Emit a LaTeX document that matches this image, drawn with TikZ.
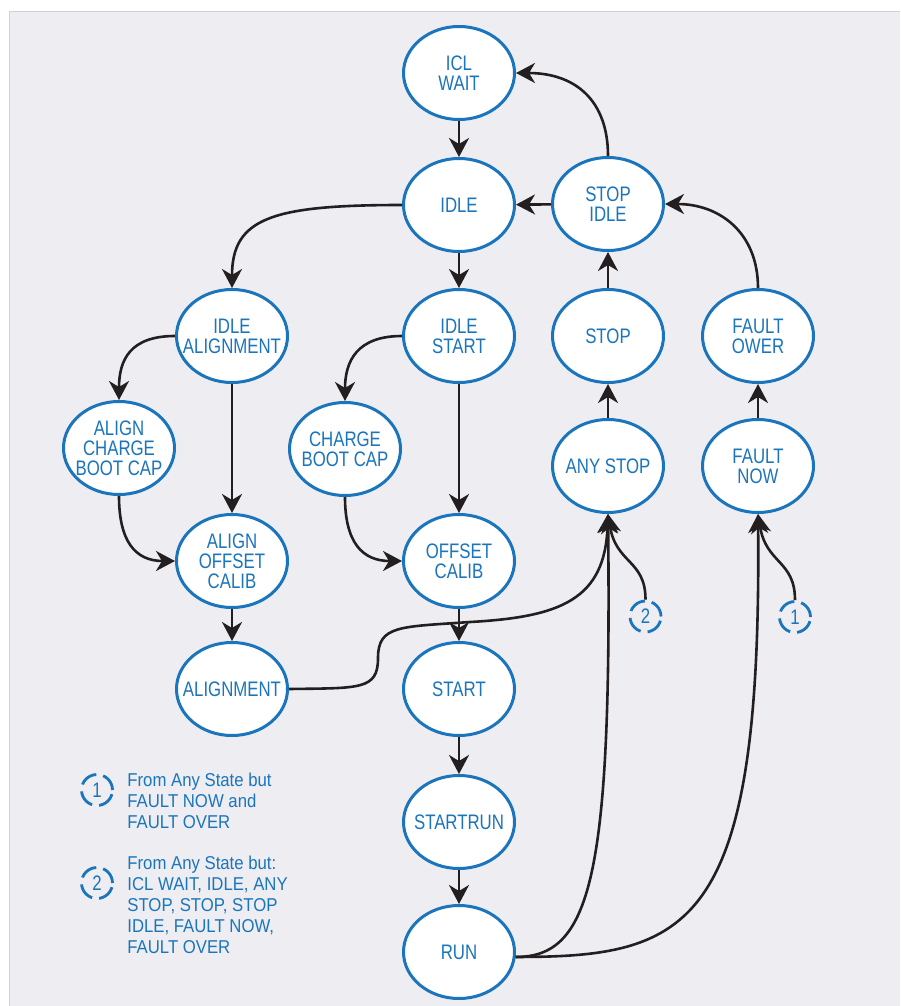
\documentclass[tikz,border=0pt]{standalone}
\usepackage{fontspec}
\setmainfont{Liberation Sans}[FakeStretch=0.8]
\newfontfamily\legendfont{Liberation Sans}[FakeStretch=0.9]
\usepackage{tikz}
\usetikzlibrary{
	arrows.meta,
	shapes.geometric
}
\definecolor{blaa}{HTML}{1B75BC}
\definecolor{strek}{HTML}{231F20}
\definecolor{bakgrunn}{HTML}{EDEDF2}
\definecolor{kant}{HTML}{D2D2D6}
\tikzset{
%Define standard arrow tip
>={Stealth[length=9.5pt,width=10pt,inset=3pt]},
%Define style for states
tilstand/.style={
	ellipse,
	draw=blaa, line width=1.5pt,
	fill=white,
	text=blaa,
	minimum width=55.5pt,
	minimum height=46.5pt,
	inner xsep=-5pt,
	inner ysep=1pt,
	align=center},
%Define style for the numbered marks
merke/.style={
	circle,
	draw=blaa, line width=1.4pt,
	dash pattern=on 9pt off 3.5pt,
	text=blaa,
	font=\fontsize{10.5}{10}\selectfont,
	minimum size=15.5pt,
	inner sep=0pt},
%Define style for legend text
forklaring/.style={
	text=blaa,
	align=left,
	inner sep=0pt,
	font=\legendfont\fontsize{9.3}{10.5}\selectfont},
% Define arrow style
pil/.style={
	->,
	draw=strek,
	line width=1.3pt},
lip/.style={
	<-,
	draw=strek,
	line width=1.3pt}
}
\begin{document}
\begin{tikzpicture}[x=0.5pt,y=-0.5pt]
				\tikzstyle{every node}=[font=\fontsize{10.5}{10}\selectfont]
				\useasboundingbox (0,0) rectangle (900,1006);
				\fill[bakgrunn] (9,12) rectangle (900,1006);
				\draw[kant, line width=0.5pt] (9,1006) -- (9,12) -- (900,12);
				% middle column
				\node[tilstand] (icl) at (459,73) {ICL\\WAIT};
				\node[tilstand] (idle) at (459,205) {IDLE} edge[lip] (icl);
				\node[tilstand] (idlestart) at (459,336) {IDLE\\START} edge[lip] (idle);
				\node[tilstand] (offset) at (459,561) {OFFSET\\CALIB} edge[lip] (idlestart);
				\node[tilstand] (start) at (459,689) {START} edge[lip] (offset);
				\node[tilstand] (startrun) at (459,822) {STARTRUN} edge[lip] (start);
				\node[tilstand] (run) at (459,952) {RUN} edge[lip] (startrun);
				% stop and fault columns
				\node[tilstand] (stopidle) at (608,204) {STOP\\IDLE} edge[pil] (idle);
				\node[tilstand] (stop) at (608,336) {STOP} edge[pil] (stopidle);
				\node[tilstand] (anystop) at (608,466) {ANY STOP} edge[pil] (stop);
				\node[tilstand] (faultover) at (758,336) {FAULT\\OWER};
				\node[tilstand] (faultnow) at (758,466) {FAULT\\NOW} edge[pil] (faultover);
				% alignment columns
				\node[tilstand] (idlealign) at (232,336) {IDLE\\ALIGNMENT};
				\node[tilstand] (aligncharge) at (119,448) {ALIGN\\CHARGE\\BOOT CAP};
				\node[tilstand] (alignoffset) at (232,561) {ALIGN\\OFFSET\\CALIB} edge[lip] (idlealign);
				\node[tilstand] (alignment) at (232,689) {ALIGNMENT} edge[lip] (alignoffset);
				\node[tilstand] (charge) at (345,449) {CHARGE\\BOOT CAP};
				\node[merke] (ref2) at (645.5,616.5) {2};
				\node[merke] (ref1) at (795,617) {1};
				% curved arrows
				\draw[pil] (stopidle.north) .. controls +(0,-55) and +(60,0) .. (icl.east);
				\draw[pil] (faultover.north) .. controls +(0,-55) and +(55,0) .. (stopidle.east);
				\draw[pil] (idle.west) .. controls +(-130,0) and +(0,-70) .. (idlealign.north);
				\draw[pil] (idlealign.west) .. controls +(-45,0) and +(0,-40) .. (aligncharge.north);
				\draw[pil] (idlestart.west) .. controls +(-45,0) and +(0,-40) .. (charge.north);
				\draw[pil] (aligncharge.south) .. controls +(0,45) and +(-40,0) .. (alignoffset.west);
				\draw[pil] (charge.south) .. controls +(0,45) and +(-40,0) .. (offset.west);
				\draw[pil] (alignment.east) .. controls (360,688) and (378,690) .. (378,658) .. controls (378,625) and (400,627) .. (470,622) .. controls (560,617) and (605,600) .. (anystop.south);
				\draw[pil] (run.-5) .. controls (590,957) and (612,880) .. (anystop.south);
				\draw[pil] (run.-5) .. controls (690,957) and (762,930) .. (faultnow.south);
				\draw[pil] (ref2.north) .. controls +(0,-40) and +(8,50) .. (anystop.south);
				\draw[pil] (ref1.north) .. controls +(0,-40) and +(8,50) .. (faultnow.south);
				% legend
				\node[merke] (key1) at (97,790) {1};
				\node[merke] (key2) at (97,883) {2};
				\node[forklaring, anchor=north west] (note1) at (127,773) {From Any State but\\FAULT NOW and\\FAULT OVER};
				\node[forklaring, anchor=north west] (note2) at (127,856) {From Any State but:\\ICL WAIT, IDLE, ANY\\STOP, STOP, STOP\\IDLE, FAULT NOW,\\FAULT OVER};
			\end{tikzpicture}
\end{document}
